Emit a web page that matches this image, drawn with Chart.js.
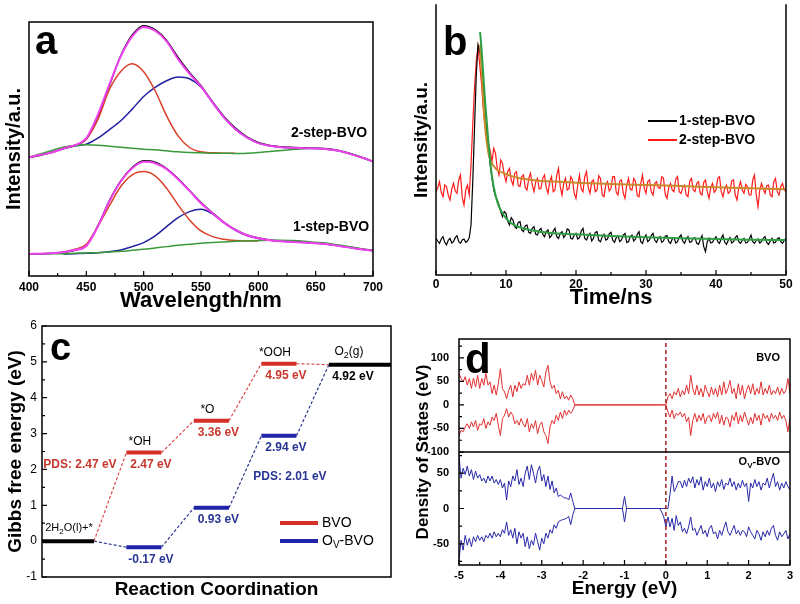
<!DOCTYPE html>
<html>
<head>
<meta charset="utf-8">
<script src="https://cdn.jsdelivr.net/npm/chart.js@4.4.1/dist/chart.umd.min.js"></script>
<style>
  * { margin: 0; padding: 0; }
  body { width: 800px; height: 604px; background: #fff; position: relative; overflow: hidden; }
  canvas { position: absolute; }
</style>
</head>
<body>
<canvas id="chartA" width="400" height="320" style="left:0;top:0"></canvas>
<canvas id="chartB" width="400" height="320" style="left:400px;top:0"></canvas>
<canvas id="chartC" width="400" height="294" style="left:0;top:310px"></canvas>
<canvas id="chartD" width="400" height="294" style="left:400px;top:310px"></canvas>
<script>
// ---------- (a) PL spectra, intensity in a.u.
const wavelength = [400,410,420,430,440,450,460,470,480,490,500,510,520,530,540,550,560,570,580,590,600,610,620,630,640,650,660,670,680,690,700];
const pl2Measured = [355,362,371,381,391,410,478,570,660,722,750,738,706,655,610,570,522,478,443,417,400,391,387,385,384,383,381,376,367,356,344];
const pl2Fit      = [356,363,370,382,392,413,483,573,658,718,746,735,703,650,606,568,520,475,440,415,398,390,386,384,383,382,380,375,366,355,343];
const pl2Peak1    = [385,392,410,468,558,613,636,612,555,480,420,385,372,369,368,368];              // 430-580
const pl2Peak2    = [385,390,395,413,438,465,500,538,565,585,596,591,566,520,475,440,415,398,390,386,384,383,382,380,375,366,355,343]; // 430-700
const pl2Base     = [356,366,376,386,391,393,392,389,386,383,380,378,375,372,370,369,368,368,367,368,370,373,376,379,381,383,380,375,366,355,343];
const pl1Measured = [65,66,68,71,77,92,150,225,285,325,345,341,322,292,256,220,189,161,139,123,114,108,105,103,101,99,96,91,86,81,77];
const pl1Fit      = [66,67,68,72,78,90,148,223,283,323,342,338,320,290,255,218,188,160,138,122,113,107,104,102,100,98,95,90,85,80,76];
const pl1Peak1    = [68,71,80,95,148,210,268,303,313,300,263,213,168,135,118,110,106,105,105];       // 420-600
const pl1Peak2    = [66,67,68,70,73,78,88,100,120,148,175,193,200,186,160,137,121,112,107,104,102,100,98,95,90,85,80,76]; // 430-700
const pl1Base     = [66,66,67,67,68,69,70,72,74,77,80,84,88,92,95,98,100,102,104,105,106,107,107,106,104,101,98,93,88,82,76];

// ---------- (b) TRPL decay, counts in a.u., one value every 0.25 ns
const decayTimeStep = 0.25;
const decay2Step = [
  250,262,280,248,235,270,265,240,225,258,275,252,245,285,300,232,210,255,270,240,
  330,450,560,640,684,630,575,500,445,420,395,372,340,380,365,320,300,345,335,300,
  280,310,320,285,270,305,310,268,265,295,300,262,255,290,305,270,250,280,290,258,
  260,290,300,262,245,280,295,250,255,300,320,265,240,275,290,255,260,295,285,245,
  230,270,300,258,250,295,310,262,245,280,285,250,255,298,290,240,235,270,280,252,
  260,295,295,248,240,282,285,245,230,270,290,258,255,290,280,238,235,275,300,260,
  245,280,285,250,240,275,280,262,260,295,290,242,230,262,275,255,250,288,295,250,
  245,262,270,240,235,282,290,255,250,275,280,245,240,278,285,250,230,262,275,248,
  255,290,295,250,235,260,270,245,250,282,285,240,225,262,280,255,245,272,265,240,
  240,285,300,240,205,255,275,258,245,268,270,240,235,280,290,250,240,265,275,255,
  250];
const decay1Step = [
  110,102,95,108,115,98,90,104,110,96,100,112,118,100,95,105,108,98,102,112,
  150,280,440,600,690,670,640,580,510,440,380,330,290,255,235,225,210,190,175,190,
  185,160,150,172,165,145,140,158,160,135,130,148,150,128,125,140,145,122,120,135,
  140,122,115,130,135,112,118,132,140,115,110,125,130,112,120,138,135,110,108,120,
  125,108,112,132,140,110,105,118,125,102,110,128,130,104,100,115,122,105,108,124,
  128,104,98,112,118,100,105,120,125,98,100,115,120,102,108,122,130,100,95,112,
  120,100,105,118,125,104,98,110,115,98,102,116,118,100,95,108,112,96,100,114,
  120,102,95,108,115,98,100,110,112,95,92,106,118,85,70,100,110,96,98,108,
  115,100,95,110,120,98,92,104,112,96,100,112,118,100,95,104,110,96,98,108,
  120,100,95,104,108,96,100,110,115,98,92,102,110,96,98,108,112,100,95,104,
  110];
const fitTime = [6.3,6.5,7,7.5,8,8.5,9,10,11,12,14,16,20,25,30,35,40,45,50];
const fit1Step = [729,680,525,395,295,240,205,170,152,143,133,127,122,117,113,110,108,106,105];
const fit2Step = [690,620,450,365,335,320,312,303,295,290,284,281,277,273,270,267,263,260,257];

// ---------- (c) free energy diagram, eV
const stepNames = [[['2H'],['2',1],['O(l)+*']], '*OH', '*O', '*OOH', [['O'],['2',1],['(g)']]];
const bvoEnergy = [0, 2.47, 3.36, 4.95, 4.92];
const ovEnergy  = [0, -0.17, 0.93, 2.94, 4.92];

// ---------- (d) DOS, spin up / spin down
const dosVbStart = -5, dosCbStart = -0.15, dosStep = 0.05;
const bvoVbUp = [67,56,49,60,42,56,35,57,38,63, 35,56,42,67,42,49,24,42,21,45, 77,35,28,13,31,42,17,42,28,49,
  35,45,42,63,42,67,52,74,42,63, 52,38,70,84,49,35,42,24,31,13, 28,13,19,10,21,13,0];
const bvoVbDown = [-65,-54,-57,-47,-40,-50,-36,-47,-33,-54, -40,-43,-29,-50,-36,-43,-26,-33,-18,-43,
  -65,-29,-22,-8,-26,-15,-22,-40,-33,-43, -29,-40,-47,-29,-57,-40,-50,-33,-61,-43,
  -36,-57,-65,-82,-47,-33,-40,-22,-33,-15, -29,-11,-22,-11,-18,-11,0];
const bvoCbUp = [0,0,0,0, 17,24,13,28,21,35,17,31,21,42, 24,63,35,21,42,21,35,17,42,28, 17,38,21,35,17,42,21,49,24,35,
  52,24,35,13,45,21,42,13,31,42, 24,45,21,35,24,49,21,35,24,42, 21,31,24,38,21,35,24,31,56,24];
const bvoCbDown = [0,0,0,0, -15,-26,-11,-29,-18,-22,-15,-26,-18,-36, -26,-65,-33,-18,-36,-22,-33,-18,-40,-26,
  -22,-36,-18,-29,-15,-40,-22,-43,-26,-29, -47,-22,-33,-15,-40,-22,-36,-15,-29,-43,
  -26,-40,-18,-33,-22,-43,-18,-29,-22,-36, -18,-29,-22,-33,-15,-29,-22,-33,-57,-26];
const ovVbUp = [74,43,57,48,60,46,55,41,53,43, 48,39,43,36,46,39,46,36,41,34, 41,29,36,12,39,31,46,39,55,34,
  43,31,50,60,41,62,50,36,53,60, 39,48,31,46,27,39,22,29,17,19, 17,15,15,12,22,10,0];
const ovVbDown = [-73,-45,-59,-38,-52,-42,-54,-40,-47,-38, -45,-40,-47,-38,-42,-35,-42,-33,-40,-35,
  -40,-30,-35,-19,-38,-30,-42,-28,-50,-33, -42,-35,-54,-40,-57,-45,-52,-35,-47,-59,
  -42,-50,-35,-42,-30,-35,-23,-28,-19,-17, -16,-15,-14,-11,-23,-9,0];
const ovGapE = [-1.05, -1.0, -0.95];
const ovGapUp = [0, 17, 0];
const ovGapDown = [0, -19, 0];
const ovCbUp = [0,0,0,0,0,20,46,24,30,38, 38,29,40,31,43,36,45,29,41,33, 45,26,38,31,43,29,36,24,38,31,
  41,27,36,33,43,31,38,26,36,29, 40,31,36,10,36,29,41,31,38,26, 36,33,43,29,40,50,31,38,26,36, 29,38,31,26];
const ovCbDown = [0,-5,-12,-26,-12,-26,-14,-31,-10,-24, -19,-33,-28,-36,-26,-12,-31,-28,-38,-31,
  -24,-36,-31,-40,-28,-24,-36,-33,-43,-31, -38,-28,-19,-33,-38,-31,-24,-36,-31,-38,
  -31,-33,-40,-26,-33,-38,-43,-31,-36,-45, -33,-40,-31,-38,-28,-24,-38,-45,-33,-40, -36,-31,-43,-36];
const fermiLevel = 0;

// ---------- common setup
const FONT = 'Arial, "Liberation Sans", sans-serif';
Chart.defaults.font.family = FONT;
Chart.defaults.color = '#000';
Chart.defaults.animation = false;
Chart.defaults.responsive = false;
Chart.defaults.devicePixelRatio = 1;
Chart.defaults.plugins.legend.display = false;
Chart.defaults.plugins.tooltip.enabled = false;
Chart.defaults.elements.point.radius = 0;
Chart.defaults.elements.line.borderWidth = 1.5;
Chart.defaults.elements.line.fill = false;

const pts = (xs, ys) => ys.map((y, i) => ({x: xs[i], y}));
const from = (xs, start) => xs.slice(xs.indexOf(start));
const smooth = (data, color, width) => ({data, borderColor: color, borderWidth: width, cubicInterpolationMode: 'monotone'});
const raw = (data, color, width, extra) => Object.assign({data, borderColor: color, borderWidth: width}, extra || {});

function axis(extra) {
  return Object.assign({grid: {display: false, drawTicks: false}, border: {display: false}}, extra);
}
function title(text, size, pad) {
  return {display: true, text, font: {size, weight: 'bold', lineHeight: 1}, padding: pad};
}

// frame lines and inward ticks
function frame(sides, tickScales, splits) {
  return {
    id: 'frame',
    afterDatasetsDraw(chart) {
      const {ctx, chartArea: a} = chart;
      ctx.save();
      ctx.strokeStyle = '#000';
      ctx.lineWidth = 1.5;
      ctx.lineCap = 'square';
      ctx.beginPath();
      if (sides.includes('top')) { ctx.moveTo(a.left, a.top); ctx.lineTo(a.right, a.top); }
      if (sides.includes('bottom')) { ctx.moveTo(a.left, a.bottom); ctx.lineTo(a.right, a.bottom); }
      if (sides.includes('left')) { ctx.moveTo(a.left, a.top); ctx.lineTo(a.left, a.bottom); }
      if (sides.includes('right')) { ctx.moveTo(a.right, a.top); ctx.lineTo(a.right, a.bottom); }
      (splits || []).forEach(id => {
        const y = chart.scales[id].bottom;
        ctx.moveTo(a.left, y); ctx.lineTo(a.right, y);
      });
      ctx.stroke();
      ctx.lineWidth = 1.2;
      ctx.lineCap = 'butt';
      ctx.beginPath();
      tickScales.forEach(id => {
        const s = chart.scales[id];
        const vals = s.ticks.map(t => t.value);
        const step = vals[1] - vals[0];
        const marks = vals.map(v => [v, 5]);
        for (let v = vals[0] - step / 2; v <= s.max + 1e-9; v += step) {
          if (v >= s.min - 1e-9) marks.push([v, 3]);
        }
        marks.forEach(([v, len]) => {
          const p = s.getPixelForValue(v);
          if (s.isHorizontal()) { ctx.moveTo(p, a.bottom); ctx.lineTo(p, a.bottom - len); }
          else { ctx.moveTo(a.left, p); ctx.lineTo(a.left + len, p); }
        });
      });
      ctx.stroke();
      ctx.restore();
    }
  };
}

// free text, sub-scripts and legend keys
function texts(items) {
  return {
    id: 'texts',
    afterDraw(chart) {
      const ctx = chart.ctx;
      items.forEach(it => {
        const [x, y] = typeof it.pos === 'function' ? it.pos(chart) : it.pos;
        ctx.save();
        if (it.line) {
          ctx.strokeStyle = it.color; ctx.lineWidth = it.width;
          ctx.beginPath(); ctx.moveTo(x, y); ctx.lineTo(x + it.line, y); ctx.stroke();
          ctx.restore();
          return;
        }
        const size = it.size || 12, weight = it.weight || 'normal';
        const parts = Array.isArray(it.text) ? it.text : [[it.text]];
        const fontOf = sub => `${weight} ${sub ? Math.round(size * 0.72) : size}px ${FONT}`;
        let w = 0;
        parts.forEach(([s, sub]) => { ctx.font = fontOf(sub); w += ctx.measureText(s).width; });
        ctx.translate(x, y);
        if (it.rotate) ctx.rotate(it.rotate);
        let cx = it.align === 'left' ? 0 : it.align === 'right' ? -w : -w / 2;
        ctx.fillStyle = it.color || '#000';
        ctx.textBaseline = it.baseline || 'middle';
        ctx.textAlign = 'left';
        parts.forEach(([s, sub]) => {
          ctx.font = fontOf(sub);
          ctx.fillText(s, cx, sub ? size * 0.32 : 0);
          cx += ctx.measureText(s).width;
        });
        ctx.restore();
      });
    }
  };
}

// ---------- chart a
new Chart(document.getElementById('chartA'), {
  type: 'line',
  data: {
    datasets: [
      smooth(pts(wavelength, pl2Fit), '#f040f0', 2),
      smooth(pts(wavelength, pl1Fit), '#f040f0', 2),
      smooth(pts(wavelength, pl2Base), '#3a9a3a', 1.5),
      smooth(pts(wavelength, pl1Base), '#3a9a3a', 1.5),
      smooth(pts(from(wavelength, 430), pl2Peak1), '#d9402a', 1.5),
      smooth(pts(from(wavelength, 420), pl1Peak1), '#d9402a', 1.5),
      smooth(pts(from(wavelength, 430), pl2Peak2), '#2020a0', 1.5),
      smooth(pts(from(wavelength, 430), pl1Peak2), '#2020a0', 1.5),
      smooth(pts(wavelength, pl2Measured), '#000', 1.5),
      smooth(pts(wavelength, pl1Measured), '#000', 1.5)
    ]
  },
  options: {
    layout: {padding: {top: 22, right: 27, left: 0, bottom: 0}},
    scales: {
      x: axis({type: 'linear', min: 400, max: 700,
        ticks: {stepSize: 50, font: {size: 12, weight: 'bold'}, padding: 4},
        title: title('Wavelength/nm', 22, {top: 0, bottom: 8}),
        afterFit: s => { s.height = 44; }}),
      y: axis({min: 0, max: 761, ticks: {display: false},
        title: title('Intensity/a.u.', 20, {top: 4.5, bottom: 0}),
        afterFit: s => { s.width = 29; }})
    }
  },
  plugins: [frame(['top', 'bottom', 'left', 'right'], ['x']), texts([
    {pos: [35, 54], text: 'a', size: 40, weight: 'bold', align: 'left', baseline: 'alphabetic'},
    {pos: [329, 133], text: '2-step-BVO', size: 14, weight: 'bold'},
    {pos: [331, 227], text: '1-step-BVO', size: 14, weight: 'bold'}
  ])]
});

// ---------- chart b
const decayTime = decay2Step.map((_, i) => i * decayTimeStep);
new Chart(document.getElementById('chartB'), {
  type: 'line',
  data: {
    datasets: [
      raw(pts(fitTime, fit1Step), '#2ea043', 2, {cubicInterpolationMode: 'monotone'}),
      raw(pts(fitTime, fit2Step), '#c98a2e', 2, {cubicInterpolationMode: 'monotone'}),
      raw(pts(decayTime, decay1Step), '#000', 1.2),
      raw(pts(decayTime, decay2Step), '#ff1a1a', 1.2)
    ]
  },
  options: {
    layout: {padding: {top: 5, right: 14, left: 0, bottom: 0}},
    scales: {
      x: axis({type: 'linear', min: 0, max: 50,
        ticks: {stepSize: 10, font: {size: 12, weight: 'bold'}, padding: 2.5},
        title: title('Time/ns', 22, {top: 0, bottom: 11.5}),
        afterFit: s => { s.height = 45; }}),
      y: axis({min: 0, max: 810, ticks: {display: false},
        title: title('Intensity/a.u.', 19, {top: 12, bottom: 0}),
        afterFit: s => { s.width = 36; }})
    }
  },
  plugins: [frame(['bottom', 'left', 'right'], ['x']), texts([
    {pos: [43, 55], text: 'b', size: 40, weight: 'bold', align: 'left', baseline: 'alphabetic'},
    {pos: [248, 121], line: 29, color: '#000', width: 2},
    {pos: [248, 140], line: 29, color: '#ff1a1a', width: 2},
    {pos: [279, 121], text: '1-step-BVO', size: 14, weight: 'bold', align: 'left'},
    {pos: [279, 140], text: '2-step-BVO', size: 14, weight: 'bold', align: 'left'}
  ])]
});

// ---------- chart c
const RED = '#d62f26', RED_TXT = '#c8372d', RED_DASH = '#d84a4a';
const BLUE = '#1f23a6', BLUE_TXT = '#283593', BLUE_DASH = '#2a3590';
const HALF = 0.26, X_MIN = -0.51, X_MAX = 4.66, LAST = bvoEnergy.length - 1;
const lo = i => i === 0 ? X_MIN : i - HALF;
const hi = i => i === LAST ? X_MAX : i + HALF;
const shared = i => bvoEnergy[i] === ovEnergy[i];
function levels(energy, keep) {
  const out = [];
  energy.forEach((e, i) => { if (keep(i)) out.push({x: lo(i), y: e}, {x: hi(i), y: e}, {x: hi(i), y: null}); });
  return out;
}
function links(energy) {
  const out = [];
  for (let i = 0; i < LAST; i++) out.push({x: hi(i), y: energy[i]}, {x: lo(i + 1), y: energy[i + 1]}, {x: lo(i + 1), y: null});
  return out;
}
const at = (i, energy, dx, dy) => chart => [
  chart.scales.x.getPixelForValue((lo(i) + hi(i)) / 2) + dx,
  chart.scales.y.getPixelForValue(energy[i]) + dy
];
const ev = e => e.toFixed(2) + ' eV';
const cLabels = [
  {pos: [50, 50], text: 'c', size: 38, weight: 'bold', align: 'left', baseline: 'alphabetic'},
  {pos: [280, 213], line: 38, color: RED, width: 4},
  {pos: [280, 231], line: 38, color: BLUE, width: 4},
  {pos: [322, 213], text: 'BVO', size: 14, align: 'left'},
  {pos: [322, 231], text: [['O'], ['V', 1], ['-BVO']], size: 14, align: 'left'},
  {pos: at(0, bvoEnergy, 1, -13), text: stepNames[0], size: 11},
  {pos: at(LAST, bvoEnergy, -11, -13), text: stepNames[LAST], size: 12},
  {pos: at(LAST, bvoEnergy, -7, 12), text: ev(bvoEnergy[LAST]), size: 12, weight: 'bold'},
  {pos: at(1, bvoEnergy, -64, 12), text: 'PDS: ' + ev(bvoEnergy[1] - bvoEnergy[0]), size: 12, weight: 'bold', color: RED_TXT},
  {pos: at(3, ovEnergy, 11, 41), text: 'PDS: ' + ev(ovEnergy[3] - ovEnergy[2]), size: 12, weight: 'bold', color: BLUE_TXT}
];
for (let i = 1; i < LAST; i++) {
  cLabels.push({pos: at(i, bvoEnergy, -4, -11), text: stepNames[i], size: 12});
  cLabels.push({pos: at(i, bvoEnergy, 7, 12), text: ev(bvoEnergy[i]), size: 12, weight: 'bold', color: RED_TXT});
  cLabels.push({pos: at(i, ovEnergy, 7, 12), text: ev(ovEnergy[i]), size: 12, weight: 'bold', color: BLUE_TXT});
}
new Chart(document.getElementById('chartC'), {
  type: 'line',
  data: {
    datasets: [
      raw(levels(bvoEnergy, i => !shared(i)), RED, 4),
      raw(levels(ovEnergy, i => !shared(i)), BLUE, 4),
      raw(levels(bvoEnergy, shared), '#000', 4),
      raw(links(bvoEnergy), RED_DASH, 1.2, {borderDash: [3, 2]}),
      raw(links(ovEnergy), BLUE_DASH, 1.2, {borderDash: [3, 2]})
    ]
  },
  options: {
    layout: {padding: {top: 16, right: 9, left: 0, bottom: 0}},
    scales: {
      x: axis({type: 'linear', min: X_MIN, max: X_MAX, ticks: {display: false},
        title: title('Reaction Coordination', 19, {top: 0, bottom: 5}),
        afterFit: s => { s.height = 27; }}),
      y: axis({min: -1, max: 6, ticks: {stepSize: 1, font: {size: 12}, padding: 5},
        title: title('Gibbs free energy (eV)', 19, {top: 6.5, bottom: 0}),
        afterFit: s => { s.width = 42; }})
    }
  },
  plugins: [frame(['top', 'bottom', 'left', 'right'], ['y']), texts(cLabels)]
});

// ---------- chart d
const dosVbE = bvoVbUp.map((_, i) => +(dosVbStart + i * dosStep).toFixed(2));
const dosCbE = bvoCbUp.map((_, i) => +(dosCbStart + i * dosStep).toFixed(2));
const dosAxis = (min, max) => axis({min, max, stack: 'dos', stackWeight: 1,
  ticks: {stepSize: 50, includeBounds: false, autoSkip: false, font: {size: 11, weight: 'bold'}, padding: 10},
  afterFit: s => { s.width = 59; }});
new Chart(document.getElementById('chartD'), {
  type: 'line',
  data: {
    datasets: [
      raw([{x: fermiLevel, y: -100}, {x: fermiLevel, y: 140}], '#a3201c', 1.5, {yAxisID: 'yTop', borderDash: [4, 3]}),
      raw([{x: fermiLevel, y: -80}, {x: fermiLevel, y: 80}], '#a3201c', 1.5, {yAxisID: 'yBot', borderDash: [4, 3]}),
      raw([...pts(dosVbE, bvoVbUp), ...pts(dosCbE, bvoCbUp)], '#e03030', 1, {yAxisID: 'yTop'}),
      raw([...pts(dosVbE, bvoVbDown), ...pts(dosCbE, bvoCbDown)], '#e03030', 1, {yAxisID: 'yTop'}),
      raw([...pts(dosVbE, ovVbUp), ...pts(ovGapE, ovGapUp), ...pts(dosCbE, ovCbUp)], '#2828a8', 1, {yAxisID: 'yBot'}),
      raw([...pts(dosVbE, ovVbDown), ...pts(ovGapE, ovGapDown), ...pts(dosCbE, ovCbDown)], '#2828a8', 1, {yAxisID: 'yBot'})
    ]
  },
  options: {
    layout: {padding: {top: 29, right: 10, left: 0, bottom: 0}},
    scales: {
      x: axis({type: 'linear', min: -5, max: 3,
        ticks: {stepSize: 1, font: {size: 11, weight: 'bold'}, padding: 4},
        title: title('Energy (eV)', 19, {top: 0, bottom: 5.5}),
        afterFit: s => { s.height = 39; }}),
      yBot: dosAxis(-80, 80),
      yTop: dosAxis(-100, 140)
    }
  },
  plugins: [frame(['top', 'bottom', 'left', 'right'], ['x', 'yTop', 'yBot'], ['yTop']), texts([
    {pos: [65, 63], text: 'd', size: 42, weight: 'bold', align: 'left', baseline: 'alphabetic'},
    {pos: [380, 48], text: 'BVO', size: 11, weight: 'bold', align: 'right'},
    {pos: [380, 152], text: [['O'], ['V', 1], ['-BVO']], size: 11, weight: 'bold', align: 'right'},
    {pos: [23.5, 142], text: 'Density of States (eV)', size: 17, weight: 'bold', rotate: -Math.PI / 2}
  ])]
});
</script>
</body>
</html>
